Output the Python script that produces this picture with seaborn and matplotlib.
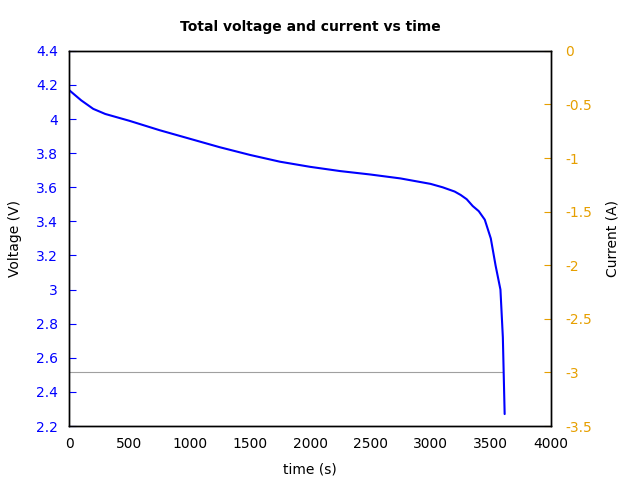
#Recreating the voltage/current vs time chart
import matplotlib
matplotlib.use("Agg")
import matplotlib.pyplot as plt
from matplotlib.ticker import FuncFormatter
import seaborn as sns
import pandas as pd

#Values
time_s = [0, 100, 200, 300, 500, 750, 1000, 1250, 1500, 1750, 2000, 2250, 2500, 2750,
          3000, 3100, 3200, 3250, 3300, 3350, 3400, 3450, 3500, 3540, 3580, 3600, 3615]
voltage_v = [4.17, 4.11, 4.06, 4.03, 3.99, 3.935, 3.885, 3.835, 3.79, 3.75, 3.72, 3.695, 3.675, 3.652,
             3.62, 3.60, 3.575, 3.555, 3.53, 3.49, 3.46, 3.41, 3.30, 3.14, 3.0, 2.72, 2.27]
current_time = [0, 3600]
current_a = [-3.0, -3.0]

df_v = pd.DataFrame({'time': time_s, 'voltage': voltage_v})
df_c = pd.DataFrame({'time': current_time, 'current': current_a})

sns.set_style("white")
fig, ax = plt.subplots(figsize=(6.4, 4.8), dpi=100)
fig.subplots_adjust(left=0.108, right=0.861, top=0.894, bottom=0.1125)
ax2 = ax.twinx()

sns.lineplot(data=df_c, x='time', y='current', ax=ax2, color='#a0a0a0', linewidth=0.8)
sns.lineplot(data=df_v, x='time', y='voltage', ax=ax, color='#0000ff', linewidth=1.5)
ax.set_zorder(ax2.get_zorder() + 1)
ax.patch.set_visible(False)

fmt = FuncFormatter(lambda v, p: '%g' % round(v, 3))
ax.set_xlim(0, 4000)
ax.set_ylim(2.2, 4.4)
ax.set_yticks([2.2 + 0.2 * i for i in range(12)])
ax.set_xticks(range(0, 4001, 500))
ax.yaxis.set_major_formatter(fmt)
ax2.set_ylim(-3.5, 0)
ax2.set_yticks([-3.5 + 0.5 * i for i in range(8)])
ax2.yaxis.set_major_formatter(fmt)

ax.tick_params(axis='y', colors='#0000ff', direction='in', length=5, pad=8)
ax.tick_params(axis='x', direction='in', length=5, pad=8, colors='black')
ax2.tick_params(axis='y', colors='#e69f00', direction='in', length=5, pad=10)
for a in (ax, ax2):
    for s in a.spines.values():
        s.set_color('black')
        s.set_linewidth(1)

ax.set_xlabel('time (s)', labelpad=8, color='black')
ax.set_ylabel('Voltage (V)', labelpad=10, color='black')
ax2.set_ylabel('Current (A)', labelpad=10, color='black')
ax.set_title('Total voltage and current vs time', fontweight='bold', fontsize=10, pad=14, color='black')

fig.savefig('out.png', dpi=100)
